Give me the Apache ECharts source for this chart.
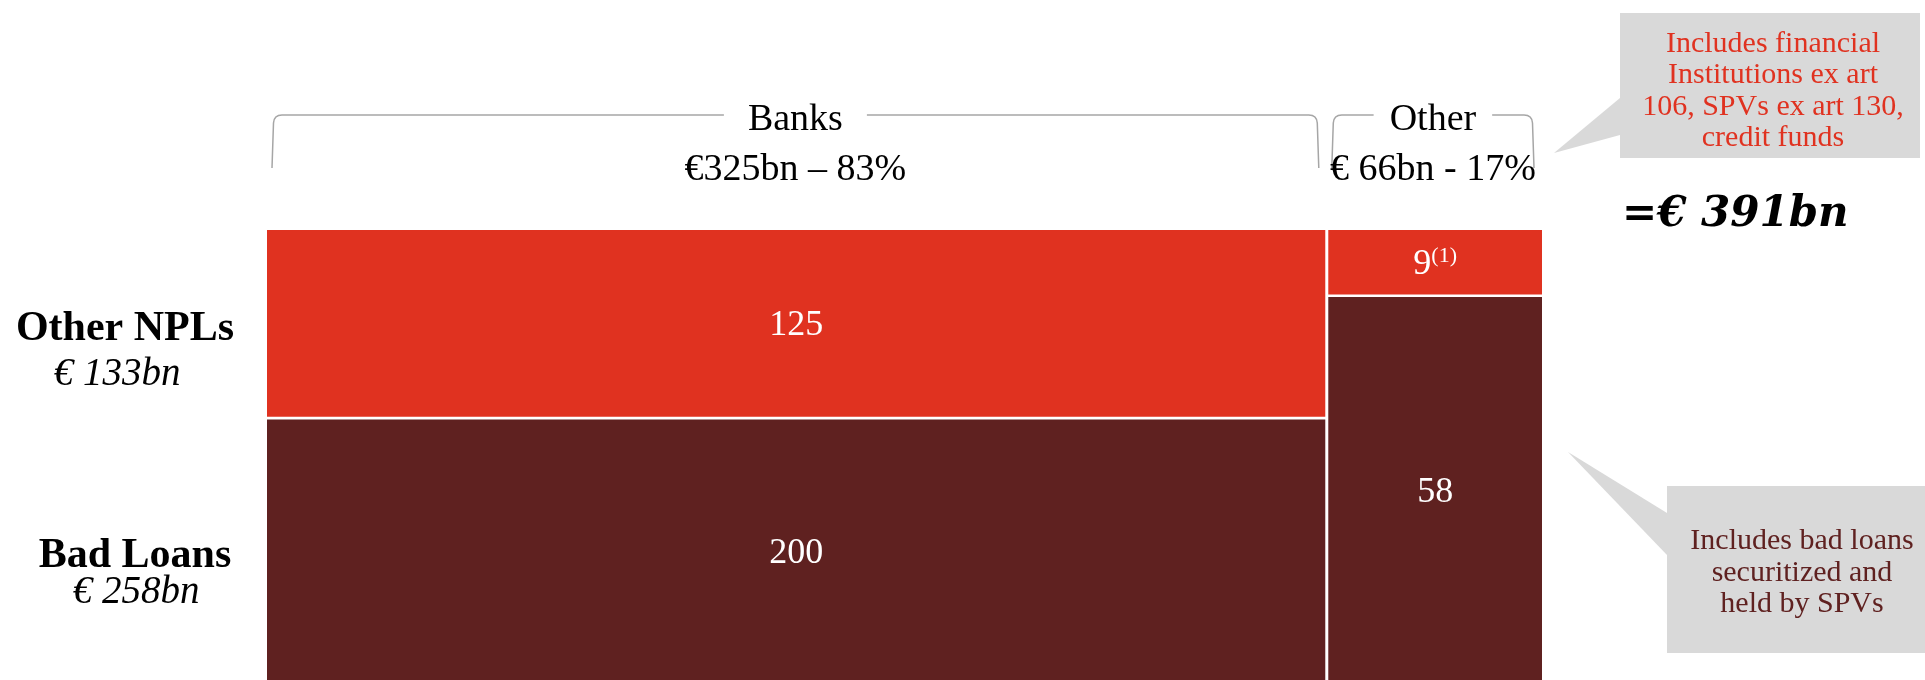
<!DOCTYPE html>
<html>
<head>
<meta charset="utf-8">
<script src="https://cdn.jsdelivr.net/npm/echarts@6/dist/echarts.min.js"></script>
<style>
  html, body { margin: 0; padding: 0; background: #ffffff; }
  #chart { width: 1925px; height: 680px; }
</style>
</head>
<body>
<div id="chart"></div>
<script>
// Holders of NPLs (€bn): column widths follow each holder's total,
// segment heights follow each row's share within the column.
const columns = ['Banks', 'Other'];
const columnTotals = [325, 66];
const columnSubLabels = ['€325bn – 83%', '€ 66bn - 17%'];
const otherNpls = [125, 9];
const badLoans = [200, 58];
const otherNplsNotes = ['', '(1)'];
const badLoansNotes = ['', ''];
const rowNames = ['Other NPLs', 'Bad Loans'];
const rowTotals = ['€ 133bn', '€ 258bn'];
const grandTotal = '=€ 391bn';
const otherNote = 'Includes financial\nInstitutions ex art\n106, SPVs ex art 130,\ncredit funds';
const badLoansNote = 'Includes bad loans\nsecuritized and\nheld by SPVs';

const RED = '#e03220';
const DARK = '#5f2120';
const SERIF = '"Liberation Serif", "DejaVu Serif", serif';

// Build the mosaic segments from the arrays above
const rows = [
  { values: otherNpls, notes: otherNplsNotes, color: RED },
  { values: badLoans, notes: badLoansNotes, color: DARK }
];
const segments = [];
const columnSpans = [];
let cursor = 0;
columns.forEach(function (name, c) {
  const x0 = cursor, x1 = cursor + columnTotals[c];
  columnSpans.push([x0, x1]);
  const colSum = rows.reduce(function (s, r) { return s + r.values[c]; }, 0);
  let acc = 0;
  rows.forEach(function (r, ri) {
    const y0 = acc / colSum * 100;
    acc += r.values[c];
    const y1 = acc / colSum * 100;
    segments.push({ x0: x0, x1: x1, y0: y0, y1: y1, col: c, row: ri,
                    value: r.values[c], note: r.notes[c], color: r.color });
  });
  cursor = x1;
});
const totalWidth = cursor;

function renderSegment(params, api) {
  const s = segments[params.dataIndex];
  const p0 = api.coord([s.x0, s.y0]);
  const p1 = api.coord([s.x1, s.y1]);
  const gapX = 1.5, gapY = 1.3;
  const left = p0[0] + (s.col > 0 ? gapX : 0);
  const right = p1[0] - (s.col < columns.length - 1 ? gapX : 0);
  const top = p0[1] + (s.row > 0 ? gapY : 0);
  const bottom = p1[1] - (s.row < rows.length - 1 ? gapY : 0);
  const cx = (left + right) / 2;
  const cy = (top + Math.min(bottom, api.getHeight())) / 2 + (s.row > 0 ? 4 : 2);
  const children = [{
    type: 'rect',
    shape: { x: left, y: top, width: right - left, height: bottom - top },
    style: { fill: s.color }
  }];
  const label = s.note
    ? '{v|' + s.value + '}{s|' + s.note + '}'
    : '{v|' + s.value + '}';
  children.push({
    type: 'text',
    x: cx, y: cy,
    style: {
      text: label,
      align: 'center', verticalAlign: 'middle',
      fill: '#ffffff',
      rich: {
        v: { fontFamily: SERIF, fontSize: 36, fill: '#ffffff', lineHeight: 38 },
        s: { fontFamily: SERIF, fontSize: 22, fill: '#ffffff', verticalAlign: 'top', lineHeight: 24 }
      }
    }
  });
  return { type: 'group', children: children };
}

function renderBracket(params, api) {
  const span = columnSpans[params.dataIndex];
  const a = api.coord([span[0], 0]);
  const b = api.coord([span[1], 0]);
  const x0 = a[0] + 5, x1 = b[0] - 8;
  const yTop = 115, yEnd = 168;
  const cx = (x0 + x1) / 2;
  const path = 'M' + x0 + ',' + yEnd + ' L' + (x0 + 1.5) + ',' + (yTop + 8) +
    ' Q' + (x0 + 2) + ',' + yTop + ' ' + (x0 + 10) + ',' + yTop +
    ' L' + (x1 - 10) + ',' + yTop +
    ' Q' + (x1 - 2) + ',' + yTop + ' ' + (x1 - 1.5) + ',' + (yTop + 8) +
    ' L' + x1 + ',' + yEnd;
  return {
    type: 'group',
    children: [
      {
        type: 'path',
        shape: { pathData: path },
        style: { fill: null, stroke: '#a6a6a6', lineWidth: 1.5 }
      },
      {
        type: 'text', x: cx, y: 120,
        style: {
          text: columns[params.dataIndex],
          font: '38px ' + SERIF, fill: '#000000',
          align: 'center', verticalAlign: 'middle',
          backgroundColor: '#ffffff', padding: [0, params.dataIndex === 0 ? 24 : 16]
        }
      },
      {
        type: 'text', x: cx, y: 170,
        style: {
          text: columnSubLabels[params.dataIndex],
          font: '38px ' + SERIF, fill: '#000000',
          align: 'center', verticalAlign: 'middle'
        }
      }
    ]
  };
}

const chart = echarts.init(document.getElementById('chart'));
chart.setOption({
  animation: false,
  backgroundColor: '#ffffff',
  // the plot runs off the bottom edge: only the top 92% of each column is in view
  grid: { left: 267, top: 230, width: 1275, bottom: 0 },
  xAxis: { type: 'value', min: 0, max: totalWidth, show: false },
  yAxis: { type: 'value', min: 0, max: 92, inverse: true, show: false },
  series: [
    {
      type: 'custom',
      renderItem: renderSegment,
      data: segments.map(function (s) { return [s.x0, s.x1, s.y0, s.y1, s.value]; }),
      encode: { x: [0, 1], y: [2, 3] },
      clip: false
    },
    {
      type: 'custom',
      renderItem: renderBracket,
      data: columnSpans.map(function (s) { return [s[0], s[1]]; }),
      encode: { x: [0, 1] },
      clip: false
    }
  ],
  graphic: [
    // Row titles
    { type: 'text', x: 125, y: 329, style: { text: rowNames[0], font: 'bold 42px ' + SERIF, fill: '#000', align: 'center', verticalAlign: 'middle' } },
    { type: 'text', x: 117, y: 375, style: { text: rowTotals[0], font: 'italic 39px ' + SERIF, fill: '#000', align: 'center', verticalAlign: 'middle' } },
    { type: 'text', x: 135, y: 556, style: { text: rowNames[1], font: 'bold 42px ' + SERIF, fill: '#000', align: 'center', verticalAlign: 'middle' } },
    { type: 'text', x: 136, y: 593, style: { text: rowTotals[1], font: 'italic 39px ' + SERIF, fill: '#000', align: 'center', verticalAlign: 'middle' } },
    // Grand total
    { type: 'text', x: 1622, y: 215, style: { text: grandTotal, font: 'italic bold 42px "DejaVu Serif", serif', fill: '#000', align: 'left', verticalAlign: 'middle' } },
    // Callout for the "Other" holders
    { type: 'polygon', shape: { points: [[1620, 98], [1554, 153], [1620, 135]] }, style: { fill: '#d9d9d9' } },
    { type: 'rect', shape: { x: 1620, y: 13, width: 300, height: 145 }, style: { fill: '#d9d9d9' } },
    { type: 'text', x: 1773, y: 91, style: { text: otherNote, font: '30px ' + SERIF, lineHeight: 31.5, fill: RED, align: 'center', verticalAlign: 'middle' } },
    // Callout for bad loans held by SPVs
    { type: 'polygon', shape: { points: [[1667, 513], [1568, 452], [1667, 555]] }, style: { fill: '#d9d9d9' } },
    { type: 'rect', shape: { x: 1667, y: 486, width: 270, height: 167 }, style: { fill: '#d9d9d9' } },
    { type: 'text', x: 1802, y: 573, style: { text: badLoansNote, font: '30px ' + SERIF, lineHeight: 31.5, fill: DARK, align: 'center', verticalAlign: 'middle' } }
  ]
});
</script>
</body>
</html>
